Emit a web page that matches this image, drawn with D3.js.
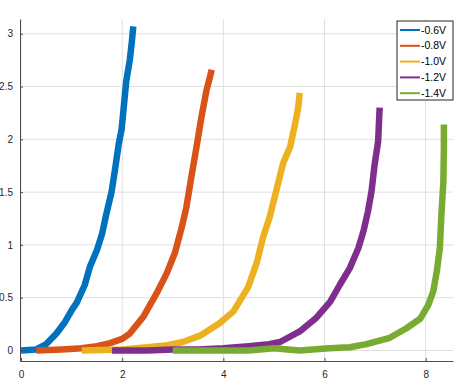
<!DOCTYPE html>
<html>
<head>
<meta charset="utf-8">
<script src="https://cdn.jsdelivr.net/npm/d3@7"></script>
<style>
  body { margin: 0; background: #fff; }
  svg { font-family: "Liberation Sans", Arial, sans-serif; }
  .grid line { stroke: #dfdfdf; stroke-width: 1; }
  .axis path, .axis line { stroke: #4d4d4d; }
  .axis text { fill: #262626; font-size: 10px; }
</style>
</head>
<body>
<div id="chart"></div>
<script>
const margin = {top: 19, right: 15, bottom: 24, left: 20},
      width = 468 - margin.left - margin.right,
      height = 385 - margin.top - margin.bottom;

const seriesNames = ['-0.6V', '-0.8V', '-1.0V', '-1.2V', '-1.4V'];
const colors = ['#0072BD', '#D95319', '#EDB120', '#7E2F8E', '#77AC30'];

const xTicks = [0, 2, 4, 6, 8];
const yTicks = [0, 0.5, 1, 1.5, 2, 2.5, 3];

// each series: x values and y values
const xs06 = [0, 0.3, 0.5, 0.7, 0.87, 1.0, 1.1, 1.26, 1.36, 1.5, 1.6, 1.69, 1.79, 1.86, 1.93, 1.99, 2.03, 2.08, 2.15, 2.19, 2.22];
const ys06 = [0, 0.01, 0.06, 0.16, 0.27, 0.38, 0.45, 0.62, 0.79, 0.95, 1.1, 1.3, 1.5, 1.72, 1.95, 2.1, 2.3, 2.55, 2.75, 2.92, 3.07];

const xs08 = [0.3, 0.8, 1.2, 1.5, 1.76, 2.0, 2.15, 2.42, 2.68, 2.88, 3.04, 3.18, 3.27, 3.37, 3.47, 3.57, 3.67, 3.73, 3.77];
const ys08 = [0, 0.01, 0.02, 0.04, 0.07, 0.11, 0.16, 0.32, 0.54, 0.73, 0.92, 1.17, 1.36, 1.65, 1.93, 2.22, 2.47, 2.58, 2.66];

const xs10 = [1.2, 2.0, 2.5, 2.9, 3.2, 3.54, 3.93, 4.2, 4.49, 4.66, 4.79, 4.92, 5.05, 5.18, 5.32, 5.42, 5.48, 5.51];
const ys10 = [0, 0.01, 0.03, 0.05, 0.08, 0.14, 0.26, 0.37, 0.6, 0.83, 1.08, 1.27, 1.52, 1.77, 1.93, 2.15, 2.3, 2.44];

const xs12 = [1.8, 2.5, 3.0, 3.5, 4.0, 4.5, 4.9, 5.12, 5.51, 5.84, 6.11, 6.3, 6.5, 6.67, 6.77, 6.86, 6.93, 6.99, 7.06, 7.09];
const ys12 = [0, 0, 0.01, 0.01, 0.02, 0.04, 0.06, 0.08, 0.18, 0.31, 0.46, 0.62, 0.78, 0.97, 1.13, 1.32, 1.51, 1.76, 1.98, 2.3];

const xs14 = [3.0, 3.5, 4.0, 4.5, 5.0, 5.5, 6.1, 6.5, 6.83, 7.29, 7.62, 7.89, 8.05, 8.15, 8.22, 8.28, 8.31, 8.35, 8.36, 8.36];
const ys14 = [0, 0, 0, 0, 0.02, 0, 0.02, 0.03, 0.06, 0.12, 0.21, 0.3, 0.43, 0.56, 0.75, 0.97, 1.28, 1.6, 1.92, 2.14];

const seriesX = [xs06, xs08, xs10, xs12, xs14];
const seriesY = [ys06, ys08, ys10, ys12, ys14];

const svg = d3.select('#chart').append('svg')
    .attr('width', width + margin.left + margin.right)
    .attr('height', height + margin.top + margin.bottom);

const g = svg.append('g')
    .attr('transform', `translate(${margin.left}, ${margin.top})`);

const x = d3.scaleLinear()
    .domain([-0.02, 8.54])
    .range([0, width]);

const y = d3.scaleLinear()
    .domain([-0.1, 3.14])
    .range([height, 0]);

// Grid
g.append('g')
    .attr('class', 'grid')
  .selectAll('line.v')
  .data(xTicks)
  .enter().append('line')
    .attr('x1', d => x(d)).attr('x2', d => x(d))
    .attr('y1', 0).attr('y2', height);

g.append('g')
    .attr('class', 'grid')
  .selectAll('line.h')
  .data(yTicks)
  .enter().append('line')
    .attr('y1', d => y(d)).attr('y2', d => y(d))
    .attr('x1', 0).attr('x2', width);

// Lines (noisy measurements drawn as thick bands)
const line = d3.line()
    .x(d => x(d[0]))
    .y(d => y(d[1]));

seriesNames.forEach((name, i) => {
  const pts = seriesX[i].map((v, j) => [v, seriesY[i][j]]);
  g.append('path')
      .datum(pts)
      .attr('fill', 'none')
      .attr('stroke', colors[i])
      .attr('stroke-width', 6.5)
      .attr('stroke-linejoin', 'round')
      .attr('stroke-linecap', 'butt')
      .attr('d', line);
});

// Axes (ticks point inward)
g.append('g')
    .attr('class', 'axis axis-x')
    .attr('transform', `translate(0,${height})`)
    .call(d3.axisBottom(x)
        .tickValues(xTicks)
        .tickSizeInner(-3)
        .tickSizeOuter(0)
        .tickPadding(10)
        .tickFormat(d3.format('')));

g.append('g')
    .attr('class', 'axis axis-y')
    .call(d3.axisLeft(y)
        .tickValues(yTicks)
        .tickSizeInner(-3)
        .tickSizeOuter(0)
        .tickPadding(7)
        .tickFormat(d3.format('')));

// Legend
const legend = svg.append('g')
    .attr('transform', 'translate(397, 21)');

legend.append('rect')
    .attr('width', 56)
    .attr('height', 79)
    .attr('fill', '#fff')
    .attr('stroke', '#262626')
    .attr('stroke-width', 1);

const item = legend.selectAll('g.item')
  .data(seriesNames)
  .enter().append('g')
    .attr('class', 'item')
    .attr('transform', (d, i) => `translate(0,${9 + i * 15.8})`);

item.append('line')
    .attr('x1', 3).attr('x2', 23)
    .attr('stroke', (d, i) => colors[i])
    .attr('stroke-width', 2);

item.append('text')
    .attr('x', 24)
    .attr('dy', '0.35em')
    .attr('font-size', 10.5)
    .attr('fill', '#000')
    .text(d => d);
</script>
</body>
</html>
